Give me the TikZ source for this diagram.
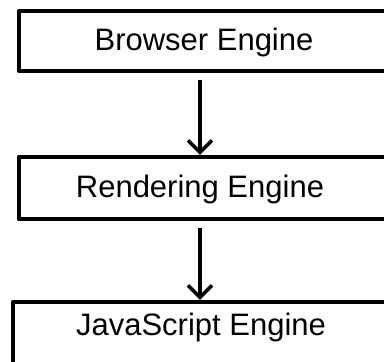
\documentclass[tikz,border=0pt]{standalone}
\usepackage{fontspec}
\setmainfont{Liberation Sans}
\usetikzlibrary{arrows.meta}
\begin{document}
\begin{tikzpicture}[x=1pt,y=-1pt,
  box/.style={draw=black,line width=4.5pt,minimum width=371pt,inner sep=0pt,line join=round},
  lbl/.style={font=\fontsize{31}{34}\selectfont,inner sep=0pt},
  arr/.style={line width=3.5pt,-{Straight Barb[length=12pt,width=24pt,line width=3.5pt]},shorten <=7pt}]
\useasboundingbox (0,0) rectangle (384,362);
\clip (0,0) rectangle (384,362);
\node[box,minimum height=60pt] (b1) at (204.5,41) {};
\node[box,minimum height=62pt] (b2) at (204.5,188) {};
\node[box,minimum width=377pt,minimum height=64pt] (b3) at (201.5,334) {};
\node[lbl] (t1) at (204,42) {Browser Engine};
\node[lbl] (t2) at (200,189) {Rendering Engine};
\node[lbl] (t3) at (201,327) {JavaScript Engine};
\coordinate (ax) at (200,0);
\draw[arr] (b1.south -| ax) -- (b2.north -| ax);
\draw[arr] (b2.south -| ax) -- (b3.north -| ax);
\end{tikzpicture}
\end{document}
